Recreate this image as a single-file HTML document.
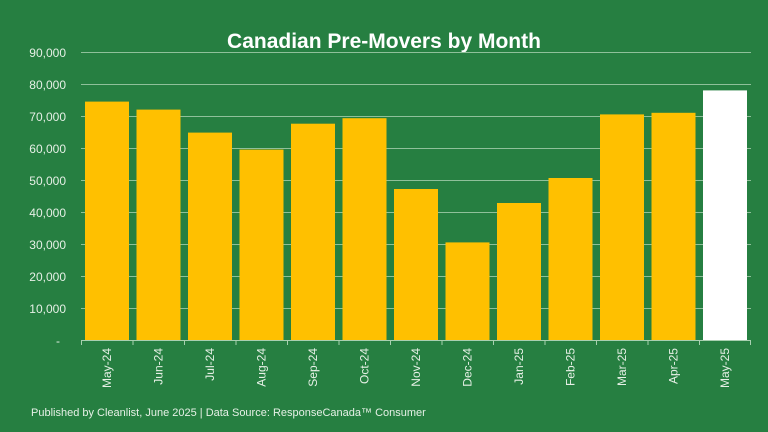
<!DOCTYPE html><html><head><style>body{margin:0;background:#267f41;}svg{display:block}text{font-family:"Liberation Sans",sans-serif;}</style></head><body>
<svg width="768" height="432" viewBox="0 0 768 432">
<rect width="768" height="432" fill="#267f41"/>
<text x="384" y="48" text-anchor="middle" font-size="21" font-weight="bold" fill="#fff">Canadian Pre-Movers by Month</text>
<g stroke="#8fc09a" stroke-width="1">
<line x1="81" x2="751" y1="52.5" y2="52.5"/><line x1="81" x2="751" y1="84.5" y2="84.5"/><line x1="81" x2="751" y1="116.5" y2="116.5"/><line x1="81" x2="751" y1="148.5" y2="148.5"/><line x1="81" x2="751" y1="180.5" y2="180.5"/><line x1="81" x2="751" y1="212.5" y2="212.5"/><line x1="81" x2="751" y1="244.5" y2="244.5"/><line x1="81" x2="751" y1="276.5" y2="276.5"/><line x1="81" x2="751" y1="308.5" y2="308.5"/>
</g>
<g font-size="12" fill="#e6f0e6" text-anchor="end">
<text x="66" y="57">90,000</text><text x="66" y="89">80,000</text><text x="66" y="121">70,000</text><text x="66" y="153">60,000</text><text x="66" y="185">50,000</text><text x="66" y="217">40,000</text><text x="66" y="249">30,000</text><text x="66" y="281">20,000</text><text x="66" y="313">10,000</text><text x="60" y="345">-</text>
</g>
<g fill="#ffc000">
<rect x="85" y="101.6" width="44" height="238.4"/>
<rect x="136.5" y="109.6" width="44" height="230.4"/>
<rect x="188" y="132.6" width="44" height="207.4"/>
<rect x="239.5" y="149.6" width="44" height="190.4"/>
<rect x="291" y="123.7" width="44" height="216.3"/>
<rect x="342.5" y="118.2" width="44" height="221.8"/>
<rect x="394" y="189" width="44" height="151"/>
<rect x="445.5" y="242.4" width="44" height="97.6"/>
<rect x="497" y="203" width="44" height="137"/>
<rect x="548.5" y="178" width="44" height="162"/>
<rect x="600" y="114.4" width="44" height="225.6"/>
<rect x="651.5" y="112.8" width="44" height="227.2"/>
</g>
<rect x="703" y="90.4" width="44" height="249.6" fill="#fff"/>
<g stroke="#a8d0b0" stroke-width="1">
<line x1="81" x2="751" y1="340.5" y2="340.5"/>
<line x1="81.5" x2="81.5" y1="340" y2="345"/><line x1="133" x2="133" y1="340" y2="345"/><line x1="184.5" x2="184.5" y1="340" y2="345"/><line x1="236" x2="236" y1="340" y2="345"/><line x1="287.5" x2="287.5" y1="340" y2="345"/><line x1="339" x2="339" y1="340" y2="345"/><line x1="390.5" x2="390.5" y1="340" y2="345"/><line x1="442" x2="442" y1="340" y2="345"/><line x1="493.5" x2="493.5" y1="340" y2="345"/><line x1="545" x2="545" y1="340" y2="345"/><line x1="596.5" x2="596.5" y1="340" y2="345"/><line x1="648" x2="648" y1="340" y2="345"/><line x1="699.5" x2="699.5" y1="340" y2="345"/><line x1="750.5" x2="750.5" y1="340" y2="345"/>
</g>
<g font-size="12" fill="#e6f0e6" text-anchor="end">
<text transform="translate(111,348) rotate(-90)">May-24</text>
<text transform="translate(162.5,348) rotate(-90)">Jun-24</text>
<text transform="translate(214,348) rotate(-90)">Jul-24</text>
<text transform="translate(265.5,348) rotate(-90)">Aug-24</text>
<text transform="translate(317,348) rotate(-90)">Sep-24</text>
<text transform="translate(368.5,348) rotate(-90)">Oct-24</text>
<text transform="translate(420,348) rotate(-90)">Nov-24</text>
<text transform="translate(471.5,348) rotate(-90)">Dec-24</text>
<text transform="translate(523,348) rotate(-90)">Jan-25</text>
<text transform="translate(574.5,348) rotate(-90)">Feb-25</text>
<text transform="translate(626,348) rotate(-90)">Mar-25</text>
<text transform="translate(677.5,348) rotate(-90)">Apr-25</text>
<text transform="translate(729,348) rotate(-90)">May-25</text>
</g>
<text x="31" y="416" font-size="11" fill="#e6f0e6">Published by Cleanlist, June 2025 | Data Source: ResponseCanada™ Consumer</text>
</svg></body></html>
